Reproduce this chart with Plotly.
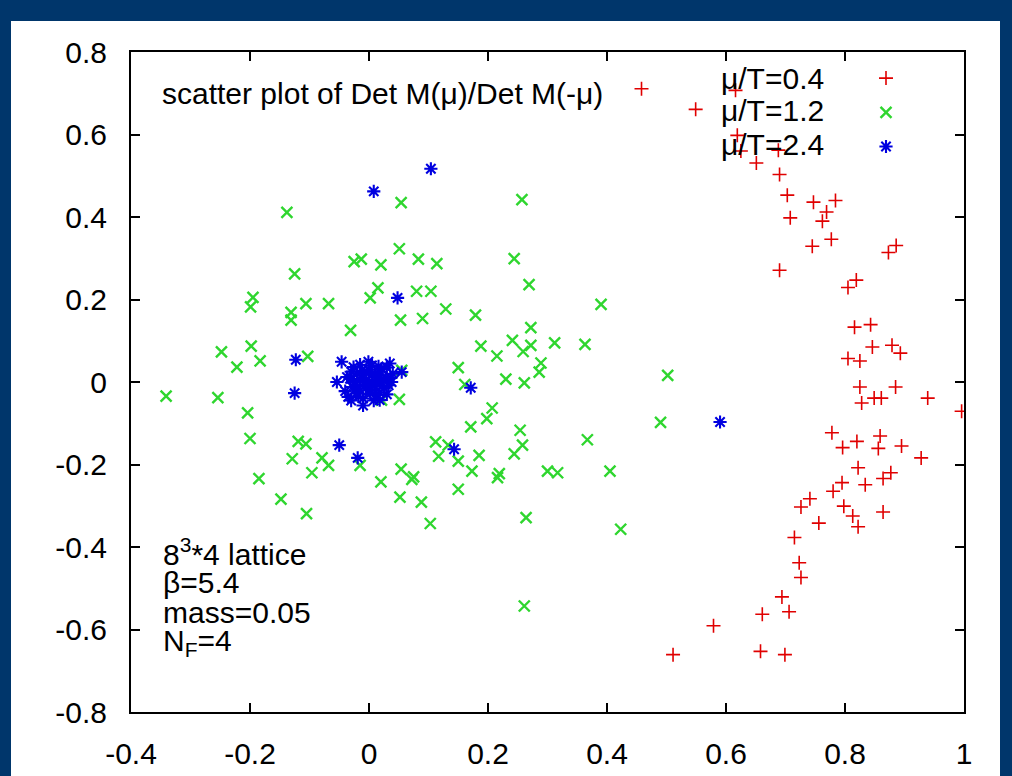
import plotly.graph_objects as go

# ---- data ----
red_x = [0.458, 0.549, 0.616, 0.619, 0.625, 0.688, 0.651, 0.690, 0.703, 0.747, 0.784, 0.708,
         0.769, 0.762, 0.777, 0.745, 0.886, 0.873, 0.690, 0.819, 0.805, 0.816, 0.843, 0.846,
         0.879, 0.893, 0.805, 0.825, 0.825, 0.885, 0.828, 0.849, 0.861, 0.939, 0.996, 0.778,
         0.796, 0.820, 0.859, 0.856, 0.895, 0.928, 0.822, 0.795, 0.834, 0.864, 0.877, 0.780,
         0.741, 0.726, 0.798, 0.813, 0.822, 0.864, 0.756, 0.715, 0.723, 0.726, 0.694, 0.706,
         0.661, 0.579, 0.511, 0.658, 0.699]
red_y = [0.711, 0.661, 0.707, 0.598, 0.560, 0.562, 0.531, 0.503, 0.453, 0.436, 0.440, 0.398,
         0.412, 0.390, 0.346, 0.329, 0.331, 0.314, 0.271, 0.247, 0.229, 0.133, 0.139, 0.085,
         0.089, 0.070, 0.057, 0.051, -0.012, -0.012, -0.051, -0.039, -0.039, -0.039, -0.071, -0.123,
         -0.159, -0.144, -0.131, -0.161, -0.155, -0.184, -0.208, -0.244, -0.249, -0.234, -0.220, -0.265,
         -0.283, -0.303, -0.301, -0.325, -0.351, -0.315, -0.342, -0.377, -0.438, -0.474, -0.521, -0.557,
         -0.563, -0.591, -0.661, -0.653, -0.661]

green_x = [-0.138, 0.054, 0.257, 0.051, -0.025, -0.013, 0.020, 0.083, 0.114, 0.244, -0.125, 0.015,
           0.002, 0.080, 0.104, 0.269, -0.195, -0.199, -0.131, -0.131, -0.106, -0.068, 0.129, 0.053,
           0.090, 0.179, -0.031, 0.272, 0.241, 0.272, 0.188, 0.259, 0.215, -0.248, -0.198, -0.222,
           -0.183, -0.103, 0.150, 0.289, 0.286, 0.230, 0.261, 0.161, 0.055,
           0.390, 0.312, 0.363, 0.502, 0.367, 0.317, 0.405, 0.423, 0.490,
           -0.341, -0.254, -0.204, -0.200, -0.119, -0.106, -0.129, -0.079, -0.068, -0.096, -0.015,
           -0.185, 0.020, 0.054, 0.075, 0.072, 0.052, 0.088, -0.148, -0.105, 0.103, 0.051, 0.021,
           0.112, 0.117, 0.150, 0.133, 0.171, 0.198, 0.207, 0.185, 0.173, 0.150, 0.219, 0.216,
           0.254, 0.258, 0.244, 0.264, 0.261, 0.300]
green_y = [0.411, 0.435, 0.442, 0.323, 0.292, 0.298, 0.284, 0.298, 0.287, 0.299, 0.262, 0.228,
           0.204, 0.220, 0.220, 0.236, 0.205, 0.182, 0.169, 0.150, 0.190, 0.190, 0.177, 0.150,
           0.154, 0.162, 0.125, 0.132, 0.101, 0.089, 0.087, 0.074, 0.063, 0.073, 0.087, 0.036,
           0.051, 0.062, 0.035, 0.046, 0.024, 0.007, -0.002, -0.006, 0.028,
           0.188, 0.095, 0.091, 0.016, -0.140, -0.220, -0.216, -0.357, -0.098,
           -0.034, -0.038, -0.075, -0.137, -0.144, -0.150, -0.186, -0.184, -0.202, -0.220, -0.202,
           -0.234, -0.242, -0.211, -0.230, -0.236, -0.279, -0.291, -0.284, -0.319, -0.343, -0.042, -0.044,
           -0.145, -0.180, -0.192, -0.153, -0.109, -0.089, -0.063, -0.178, -0.216, -0.260, -0.222, -0.232,
           -0.117, -0.153, -0.174, -0.329, -0.543, -0.216]

blue_x = [0.104, 0.008, 0.048, -0.123, -0.125, -0.050, -0.019, 0.143, 0.171, 0.590,
          -0.046, -0.054, -0.035, -0.010, -0.001, -0.026, -0.037, 0.035, 0.055, 0.038,
          0.018, 0.010, 0.021, -0.015, 0.002, -0.040, -0.030, 0.030, 0.040,
          -0.020, -0.010, 0.000, 0.010, 0.020, -0.020, 0.000, 0.015, -0.005, 0.025,
          -0.025, 0.005, -0.012, 0.028, -0.018, 0.008, 0.000, -0.008, 0.012, 0.020,
          -0.030, 0.033, -0.015, 0.005, -0.022, 0.018, 0.030,
          -0.032, -0.004, 0.024, 0.012, -0.016, 0.006, -0.028, 0.016, 0.036, -0.010]
blue_y = [0.517, 0.462, 0.204, 0.054, -0.027, -0.153, -0.184, -0.163, -0.014, -0.097,
          0.049, 0.000, -0.036, -0.057, 0.049, 0.036, 0.012, 0.045, 0.024, 0.000,
          -0.044, 0.020, 0.032, -0.020, -0.028, -0.022, -0.045, -0.030, 0.020,
          0.020, 0.010, 0.000, -0.010, 0.000, -0.010, 0.030, 0.015, -0.015, -0.015,
          0.000, 0.040, 0.028, 0.010, -0.035, -0.045, -0.020, 0.000, 0.005, 0.025,
          0.025, -0.008, 0.042, 0.018, -0.028, -0.025, 0.035,
          0.008, 0.022, 0.004, -0.032, 0.006, -0.006, -0.012, 0.038, 0.010, -0.040]

series_names = ["μ/T=0.4", "μ/T=1.2", "μ/T=2.4"]
x_ticks = [-0.4, -0.2, 0, 0.2, 0.4, 0.6, 0.8, 1]
x_tick_text = ["-0.4", "-0.2", "0", "0.2", "0.4", "0.6", "0.8", "1"]
y_ticks = [-0.8, -0.6, -0.4, -0.2, 0, 0.2, 0.4, 0.6, 0.8]
y_tick_text = ["-0.8", "-0.6", "-0.4", "-0.2", "0", "0.2", "0.4", "0.6", "0.8"]
info_lines = ["8<sup>3</sup>*4 lattice", "β=5.4", "mass=0.05", "N<sub>F</sub>=4"]
title_text = "scatter plot of Det M(μ)/Det M(-μ)"

RED, GREEN, BLUE = "#e00000", "#2fd62f", "#0000e0"
FONT = "Liberation Sans, Arial, sans-serif"

fig = go.Figure()
fig.add_trace(go.Scatter(x=red_x, y=red_y, mode="markers", name="",
                         marker=dict(symbol="cross-thin", size=10, color=RED,
                                     line=dict(color=RED, width=1.6))))
fig.add_trace(go.Scatter(x=green_x, y=green_y, mode="markers", name="",
                         marker=dict(symbol="x-thin", size=11, color=GREEN,
                                     line=dict(color=GREEN, width=2.4))))
fig.add_trace(go.Scatter(x=blue_x, y=blue_y, mode="markers", name="",
                         marker=dict(symbol="asterisk", size=11, color=BLUE,
                                     line=dict(color=BLUE, width=2.1))))

L, R, T, B = 131, 48, 52, 64
W, H = 1012, 776
pw, ph = W - L - R, H - T - B

def px_to_paper(px, py):
    return (px - L) / pw, (H - B - py) / ph

# white page region on the dark-blue frame
x0, y1 = px_to_paper(11, 21)
x1, y0 = px_to_paper(1000, 776)
shapes = [dict(type="rect", xref="paper", yref="paper", x0=x0, x1=x1, y0=y0, y1=y1,
               fillcolor="white", line=dict(width=0), layer="below")]

annotations = []
tx, ty = px_to_paper(160, 94)
annotations.append(dict(text=title_text, xref="paper", yref="paper", x=tx, y=ty,
                        xanchor="left", yanchor="middle", showarrow=False,
                        font=dict(family=FONT, size=30, color="black")))
for i, name in enumerate(series_names):
    lx, ly = px_to_paper(826, 78 + i * 33)
    annotations.append(dict(text=name, xref="paper", yref="paper", x=lx, y=ly,
                            xanchor="right", yanchor="middle", showarrow=False,
                            font=dict(family=FONT, size=30, color="black")))
for i, line in enumerate(info_lines):
    ix, iy = px_to_paper(161, 552 + i * 30)
    annotations.append(dict(text=line, xref="paper", yref="paper", x=ix, y=iy,
                            xanchor="left", yanchor="middle", showarrow=False,
                            font=dict(family=FONT, size=30, color="black")))

legx, legy = px_to_paper(866, 56)
fig.update_layout(
    width=W, height=H,
    margin=dict(l=L, r=R, t=T, b=B, autoexpand=False),
    paper_bgcolor="#00366b",
    plot_bgcolor="white",
    shapes=shapes,
    annotations=annotations,
    showlegend=True,
    legend=dict(x=legx, y=legy, xanchor="left", yanchor="top",
                bgcolor="rgba(0,0,0,0)", font=dict(family=FONT, size=24),
                itemwidth=30, tracegroupgap=0),
    xaxis=dict(range=[-0.4, 1], tickvals=x_ticks, ticktext=x_tick_text,
               ticks="inside", ticklen=9, tickwidth=2, tickcolor="black",
               showline=True, linecolor="black", linewidth=2, mirror="ticks",
               showgrid=False, zeroline=False, ticklabelstandoff=14,
               tickfont=dict(family=FONT, size=30, color="black")),
    yaxis=dict(range=[-0.8, 0.8], tickvals=y_ticks, ticktext=y_tick_text,
               ticks="inside", ticklen=9, tickwidth=2, tickcolor="black",
               showline=True, linecolor="black", linewidth=2, mirror="ticks",
               showgrid=False, zeroline=False, ticklabelstandoff=16,
               tickfont=dict(family=FONT, size=30, color="black")),
)

fig.write_html("out.html")
